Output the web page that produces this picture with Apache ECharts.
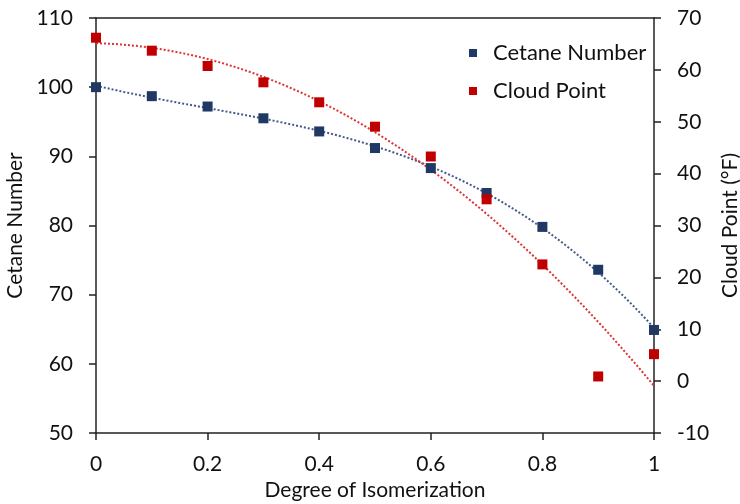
<!DOCTYPE html>
<html><head><meta charset="utf-8">
<script src="https://cdn.jsdelivr.net/npm/echarts@6/dist/echarts.min.js"></script>
<style>html,body{margin:0;padding:0;background:#fff}#c{width:740px;height:504px}</style>
</head><body><div id="c"></div>
<script>
const isomerization = [0, 0.1, 0.2, 0.3, 0.4, 0.5, 0.6, 0.7, 0.8, 0.9, 1.0];
const cetaneNumber = [100, 98.7, 97.2, 95.5, 93.6, 91.2, 88.3, 84.7, 79.8, 73.6, 64.9];
const cloudPoint = [66.2, 63.7, 60.75, 57.6, 53.75, 49.05, 43.3, 35.05, 22.5, 0.9, 5.2];
const xTicks = [0, 0.2, 0.4, 0.6, 0.8, 1];

function polyFit(xs, ys, deg) {
  const m = deg + 1, A = [];
  for (let r = 0; r < m; r++) {
    const row = [];
    for (let c = 0; c < m; c++) { let s = 0; for (let i = 0; i < xs.length; i++) s += Math.pow(xs[i], r + c); row.push(s); }
    let t = 0; for (let i = 0; i < xs.length; i++) t += ys[i] * Math.pow(xs[i], r);
    row.push(t); A.push(row);
  }
  for (let i = 0; i < m; i++) for (let j = i + 1; j < m; j++) {
    const f = A[j][i] / A[i][i];
    for (let k = i; k <= m; k++) A[j][k] -= f * A[i][k];
  }
  const c = new Array(m).fill(0);
  for (let i = m - 1; i >= 0; i--) {
    let v = A[i][m];
    for (let k = i + 1; k < m; k++) v -= A[i][k] * c[k];
    c[i] = v / A[i][i];
  }
  return c;
}
function trend(xs, ys, deg) {
  const c = polyFit(xs, ys, deg), out = [];
  for (let i = 0; i <= 100; i++) {
    const x = i / 100; let y = 0;
    for (let k = 0; k < c.length; k++) y += c[k] * Math.pow(x, k);
    out.push([x, y]);
  }
  return out;
}
const FONT = 'Lato';
const blue = '#1F3864', red = '#C00000';
const chart = echarts.init(document.getElementById('c'));
const tickStyle = { color: '#111', fontSize: 21, fontFamily: FONT };
const nameStyle = { color: '#111', fontSize: 21, fontFamily: FONT };
const axisLine = { show: true, onZero: false, lineStyle: { color: '#222', width: 1.5 } };
const axisTick = { show: true, length: 7, lineStyle: { color: '#222', width: 1.5 } };
chart.setOption({
  animation: false,
  grid: { left: 96, right: 86, top: 18, bottom: 71, outerBoundsMode: 'none', containLabel: false },
  legend: {
    data: ['Cetane Number', 'Cloud Point'],
    orient: 'vertical', left: 464, top: 37, itemWidth: 8, itemHeight: 8, itemGap: 16,
    icon: 'rect',
    itemStyle: { opacity: 1 },
    textStyle: { color: '#111', fontSize: 22, fontFamily: FONT, padding: [0, 0, 0, 11] }
  },
  xAxis: [{
    type: 'value', min: 0, max: 1, interval: 0.2,
    name: 'Degree of Isomerization', nameLocation: 'middle', nameGap: 47,
    nameTextStyle: nameStyle,
    axisLine: axisLine, axisTick: axisTick,
    axisLabel: Object.assign({ margin: 21, formatter: v => String(+v.toFixed(1)) }, tickStyle),
    splitLine: { show: false }
  }, {
    type: 'value', min: 0, max: 1, position: 'top',
    axisLine: axisLine,
    axisTick: { show: false }, axisLabel: { show: false }, splitLine: { show: false }
  }],
  yAxis: [{
    type: 'value', min: 50, max: 110, interval: 10,
    name: 'Cetane Number', nameLocation: 'middle', nameGap: 65, nameRotate: 90,
    nameTextStyle: nameStyle,
    axisLine: axisLine, axisTick: axisTick,
    axisLabel: Object.assign({ margin: 23 }, tickStyle),
    splitLine: { show: false }
  }, {
    type: 'value', min: -10, max: 70, interval: 10, position: 'right',
    name: 'Cloud Point (°F)', nameLocation: 'middle', nameGap: 55, nameRotate: 90,
    nameTextStyle: nameStyle,
    axisLine: axisLine, axisTick: axisTick,
    axisLabel: Object.assign({ margin: 23 }, tickStyle),
    splitLine: { show: false }
  }],
  series: [
    { name: 'Cetane trend', type: 'line', yAxisIndex: 0, data: trend(isomerization, cetaneNumber, 3),
      showSymbol: false, symbol: 'none', lineStyle: { color: '#44598A', width: 2, type: [2, 2] }, z: 1, silent: true },
    { name: 'Cloud trend', type: 'line', yAxisIndex: 1, data: trend(isomerization, cloudPoint, 2),
      showSymbol: false, symbol: 'none', lineStyle: { color: '#DD3333', width: 2, type: [2, 2] }, z: 1, silent: true },
    { name: 'Cetane Number', type: 'scatter', yAxisIndex: 0, symbol: 'rect', symbolSize: 10,
      data: isomerization.map((x, i) => [x, cetaneNumber[i]]),
      itemStyle: { color: blue, opacity: 1 }, z: 3 },
    { name: 'Cloud Point', type: 'scatter', yAxisIndex: 1, symbol: 'rect', symbolSize: 10,
      data: isomerization.map((x, i) => [x, cloudPoint[i]]),
      itemStyle: { color: red, opacity: 1 }, z: 3 }
  ]
});
</script></body></html>
